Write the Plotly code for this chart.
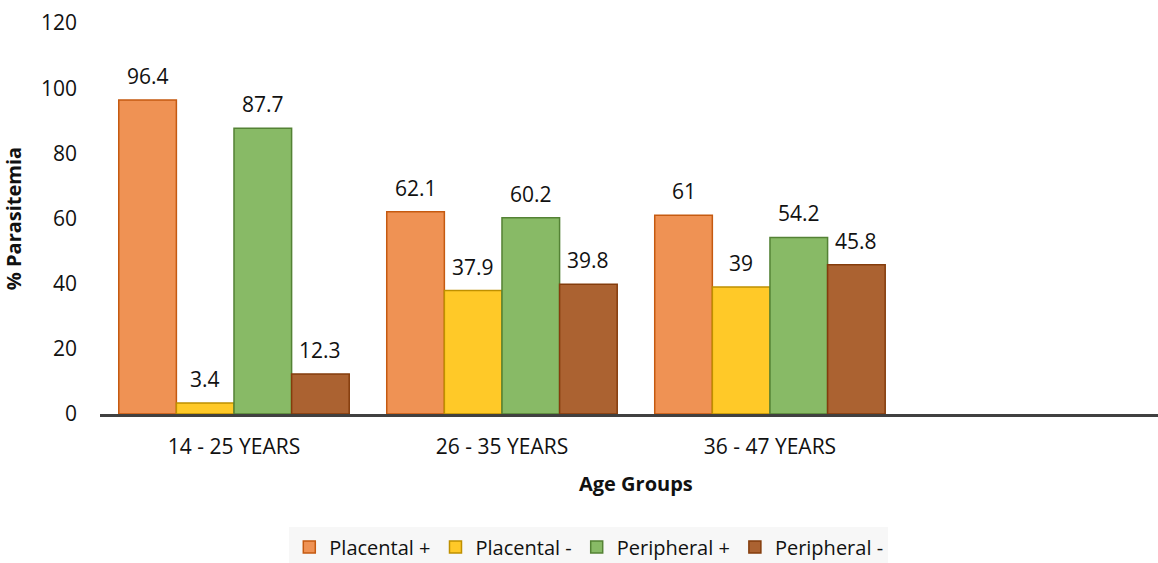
import plotly.graph_objects as go

categories = ["14 - 25 YEARS", "26 - 35 YEARS", "36 - 47 YEARS"]
series_names = ["Placental +", "Placental -", "Peripheral +", "Peripheral -"]
placental_pos = [96.4, 62.1, 61]
placental_neg = [3.4, 37.9, 39]
peripheral_pos = [87.7, 60.2, 54.2]
peripheral_neg = [12.3, 39.8, 45.8]
y_ticks = [0, 20, 40, 60, 80, 100, 120]

fills = ["#EF9254", "#FFC928", "#88BA66", "#AB6231"]
lines = ["#C55A11", "#BF9000", "#548235", "#843C0C"]
values = [placental_pos, placental_neg, peripheral_pos, peripheral_neg]

FONT = "Open Sans"
TXT = "#111111"
xpos = list(range(len(categories)))
BARGAP = 0.14
n = len(series_names)
bw = (1 - BARGAP) / n

fig = go.Figure()
for i, (name, vals, fc, lc) in enumerate(zip(series_names, values, fills, lines)):
    fig.add_trace(go.Bar(
        x=xpos, y=vals, name=name,
        marker=dict(color=fc, line=dict(color=lc, width=1.5)),
    ))
    off = (i - (n - 1) / 2) * bw
    for xv, v in zip(xpos, vals):
        fig.add_annotation(
            x=xv + off, y=v, xref="x", yref="y", text=f"{v:g}",
            showarrow=False, yanchor="middle", yshift=24,
            font=dict(family=FONT, size=21, color=TXT),
        )

fig.update_layout(
    width=1158, height=563,
    margin=dict(l=100, r=0, t=23, b=149, autoexpand=False),
    paper_bgcolor="white", plot_bgcolor="white",
    barmode="group", bargap=BARGAP, bargroupgap=0,
    font=dict(family=FONT, size=20, color=TXT),
    showlegend=True,
    legend=dict(orientation="h", x=0.462, xanchor="center", y=-0.29, yanchor="top",
                bgcolor="#F7F7F7", font=dict(family=FONT, size=20, color=TXT),
                itemwidth=30, traceorder="normal", tracegroupgap=0),
)
fig.update_xaxes(
    range=[-0.5, 3.448], tickmode="array", tickvals=xpos, ticktext=categories,
    showline=True, linecolor="#404040", linewidth=3, showgrid=False, zeroline=False,
    ticks="", ticklabelstandoff=12, tickfont=dict(family=FONT, size=21),
)
fig.update_yaxes(
    range=[0, 120], tickmode="array", tickvals=y_ticks,
    showline=False, showgrid=False, zeroline=False, ticks="",
    ticklabelstandoff=22, tickfont=dict(family=FONT, size=21),
    title=dict(text="<b>% Parasitemia</b>", font=dict(family=FONT, size=20), standoff=14),
)
fig.add_annotation(
    text="<b>Age Groups</b>", xref="paper", yref="paper",
    x=(636 - 100) / 1058, y=-0.179, xanchor="center", yanchor="middle",
    showarrow=False, font=dict(family=FONT, size=20, color=TXT),
)
fig.write_html("out.html")
